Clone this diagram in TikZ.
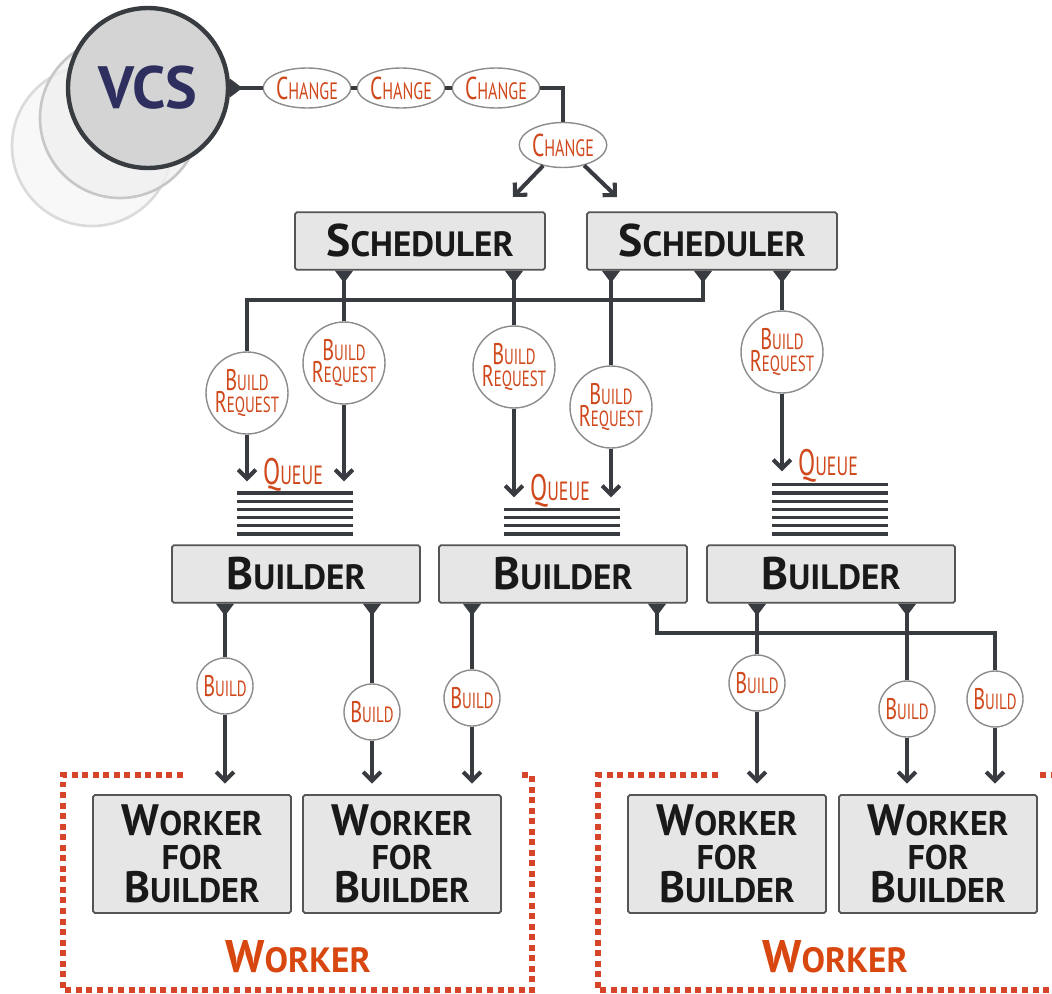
\documentclass[tikz,border=0pt]{standalone}
\usepackage{fontspec}
\setmainfont{PT Sans}
\newfontfamily\thinfont[FakeStretch=0.68]{PT Sans}
\usetikzlibrary{arrows.meta,shapes.geometric}

\definecolor{wirecol}{HTML}{383B40}
\definecolor{boxfill}{HTML}{E5E6E5}
\definecolor{boxline}{HTML}{555555}
\definecolor{ringcol}{HTML}{8C8C8C}
\definecolor{tagcol}{HTML}{D0491C}
\definecolor{fencecol}{HTML}{D6442A}
\definecolor{grpcol}{HTML}{D8470F}
\definecolor{vcscol}{HTML}{2E2F5E}

% small caps made by hand
\newcommand\bsc[2]{{\fontsize{26}{20}\selectfont #1}{\fontsize{20}{20}\selectfont #2}}
\newcommand\wsc[2]{{\fontsize{25}{19}\selectfont #1}{\fontsize{19.5}{19}\selectfont #2}}
\newcommand\tsc[2]{{\fontsize{17}{13}\selectfont #1}{\fontsize{12.5}{13}\selectfont #2}}
\newcommand\chsc[2]{{\fontsize{18}{13}\selectfont #1}{\fontsize{13.5}{13}\selectfont #2}}
\newcommand\qsc[2]{{\fontsize{21}{15}\selectfont #1}{\fontsize{15}{15}\selectfont #2}}

\tikzset{
  wire/.style={draw=wirecol, line width=2.3pt},
  arr/.style={wire, -{Straight Barb[length=5pt,width=10pt]}},
  tap/.style={wire, {Triangle[reversed,length=7pt,width=10pt]}-},
  sbox/.style={rectangle, draw=boxline, line width=1pt, fill=boxfill, rounded corners=1pt,
    minimum width=5cm, minimum height=1.15cm, font=\bfseries, text=black!90},
  wbox/.style={sbox, minimum width=3.96cm, minimum height=2.36cm, align=center,
    font=\bfseries\fontsize{19.5}{19}\selectfont},
  chg/.style={ellipse, draw=ringcol, line width=0.8pt, fill=white, inner sep=0pt,
    minimum width=1.52cm, minimum height=0.8cm, font=\thinfont, text=tagcol},
  req/.style={circle, draw=ringcol, line width=0.8pt, fill=white, inner sep=0pt,
    minimum size=1.64cm, align=center, font=\thinfont\fontsize{12.5}{13}\selectfont, text=tagcol},
  bld/.style={req, minimum size=1.12cm},
  queue/.style={rectangle, inner sep=0pt, minimum width=2.31cm, anchor=south},
  qline/.style={draw=wirecol, line width=1.9pt},
  qtag/.style={font=\thinfont, text=tagcol, anchor=base, inner sep=0pt},
  fence/.style={draw=fencecol, line width=3.4pt, dash pattern=on 3.4pt off 2.6pt},
  grp/.style={font=\bfseries, text=grpcol}
}

\begin{document}
\begin{tikzpicture}[x=0.02cm, y=-0.02cm]
\fill[white] (0,0) rectangle (1052,994);
\useasboundingbox (0,0) rectangle (1052,994);

% version control
\draw[draw=black!14, line width=1.5pt, fill=black!3, fill opacity=0.8] (92,146) circle (80);
\draw[draw=black!22, line width=1.5pt, fill=black!6, fill opacity=0.8] (120,118) circle (80);
\node[circle, draw=wirecol, line width=2.5pt, fill=black!17, minimum size=3.2cm,
  font=\bfseries\fontsize{34}{34}\selectfont, text=vcscol] (vcs) at (148,88) {VCS};

\node[chg] (ch1) at (307,88) {\chsc{C}{HANGE}};
\node[chg] (ch2) at (401,88) {\chsc{C}{HANGE}};
\node[chg] (ch3) at (496,88) {\chsc{C}{HANGE}};
\node[chg, minimum width=1.66cm, minimum height=0.9cm] (ch4) at (563,145) {\chsc{C}{HANGE}};
\draw[tap] (vcs) -- (ch1);
\draw[wire] (ch1) -- (ch2) -- (ch3);
\draw[wire] (ch3) -| (ch4);
\coordinate (t1) at (513,197);
\coordinate (t2) at (617,197);
\draw[arr] (ch4) -- (t1);
\draw[arr] (ch4) -- (t2);

% schedulers
\node[sbox] (sch1) at (420,241) {\bsc{S}{CHEDULER}};
\node[sbox] (sch2) at (712,241) {\bsc{S}{CHEDULER}};

\node[req] (br1) at (247,393) {\tsc{B}{UILD}\\\tsc{R}{EQUEST}};
\node[req] (br2) at (344,363) {\tsc{B}{UILD}\\\tsc{R}{EQUEST}};
\node[req] (br3) at (514,367) {\tsc{B}{UILD}\\\tsc{R}{EQUEST}};
\node[req] (br4) at (611,407) {\tsc{B}{UILD}\\\tsc{R}{EQUEST}};
\node[req] (br5) at (782,352) {\tsc{B}{UILD}\\\tsc{R}{EQUEST}};

\coordinate (u1) at (703,300);
\coordinate (u2) at (247,300);
\draw[tap] (sch2.south -| u1) -- (u1) -- (u2) -- (br1);
\draw[tap] (sch1.south -| br2) -- (br2);
\draw[tap] (sch1.south -| br3) -- (br3);
\draw[tap] (sch2.south -| br4) -- (br4);
\draw[tap] (sch2.south -| br5) -- (br5);

% queues
\node[queue, minimum height=1.04cm] (q1) at (295,534) {};
\node[queue, minimum height=0.72cm] (q2) at (562,534) {};
\node[queue, minimum height=1.24cm] (q3) at (830,534) {};
\foreach \k in {0,...,5}
  \draw[qline] ([yshift=\k*4.67pt]q1.south west) -- ([yshift=\k*4.67pt]q1.south east);
\foreach \k in {0,...,3}
  \draw[qline] ([yshift=\k*4.67pt]q2.south west) -- ([yshift=\k*4.67pt]q2.south east);
\foreach \k in {0,...,6}
  \draw[qline] ([yshift=\k*4.67pt]q3.south west) -- ([yshift=\k*4.67pt]q3.south east);
\node[qtag] (q1t) at (293,484) {\qsc{Q}{UEUE}};
\node[qtag] (q2t) at (560,500) {\qsc{Q}{UEUE}};
\node[qtag] (q3t) at (828,475) {\qsc{Q}{UEUE}};

\draw[arr] (br1) -- (br1 |- q1.north);
\draw[arr] (br2) -- (br2 |- q1.north);
\draw[arr] (br3) -- (br3 |- q2.north);
\draw[arr] (br4) -- (br4 |- q2.north);
\draw[arr] (br5) -- (br5 |- q3.north);

% builders
\node[sbox, minimum width=4.96cm] (b1) at (296,574) {\bsc{B}{UILDER}};
\node[sbox, minimum width=4.96cm] (b2) at (563,574) {\bsc{B}{UILDER}};
\node[sbox, minimum width=4.96cm] (b3) at (831,574) {\bsc{B}{UILDER}};

\node[bld] (d1) at (225,686) {\tsc{B}{UILD}};
\node[bld] (d2) at (372,712) {\tsc{B}{UILD}};
\node[bld] (d3) at (472,698) {\tsc{B}{UILD}};
\node[bld] (d4) at (757,683) {\tsc{B}{UILD}};
\node[bld] (d5) at (907,709) {\tsc{B}{UILD}};
\node[bld] (d6) at (995,699) {\tsc{B}{UILD}};

\coordinate (k1) at (657,633);
\coordinate (k2) at (995,633);
\draw[tap] (b1.south -| d1) -- (d1);
\draw[tap] (b1.south -| d2) -- (d2);
\draw[tap] (b2.south -| d3) -- (d3);
\draw[tap] (b2.south -| k1) -- (k1) -- (k2) -- (d6);
\draw[tap] (b3.south -| d4) -- (d4);
\draw[tap] (b3.south -| d5) -- (d5);

% workers
\draw[fence] (183,775) -- (63,775) -- (63,990) -- (532,990) -- (532,775) -- (522,775);
\draw[fence] (718,775) -- (598,775) -- (598,990) -- (1060,990);
\draw[fence] (1040,775) -- (1060,775);

\node[wbox] (w1) at (192,854) {\wsc{W}{ORKER}\\FOR\\\wsc{B}{UILDER}};
\node[wbox] (w2) at (402,854) {\wsc{W}{ORKER}\\FOR\\\wsc{B}{UILDER}};
\node[wbox] (w3) at (727,854) {\wsc{W}{ORKER}\\FOR\\\wsc{B}{UILDER}};
\node[wbox] (w4) at (938,854) {\wsc{W}{ORKER}\\FOR\\\wsc{B}{UILDER}};

\draw[arr, shorten >=6pt] (d1) -- (d1 |- w1.north);
\draw[arr, shorten >=6pt] (d2) -- (d2 |- w2.north);
\draw[arr, shorten >=6pt] (d3) -- (d3 |- w2.north);
\draw[arr, shorten >=6pt] (d4) -- (d4 |- w3.north);
\draw[arr, shorten >=6pt] (d5) -- (d5 |- w4.north);
\draw[arr, shorten >=6pt] (d6) -- (d6 |- w4.north);

\node[grp] (g1) at (298,957) {\bsc{W}{ORKER}};
\node[grp] (g2) at (835,957) {\bsc{W}{ORKER}};
\end{tikzpicture}
\end{document}
